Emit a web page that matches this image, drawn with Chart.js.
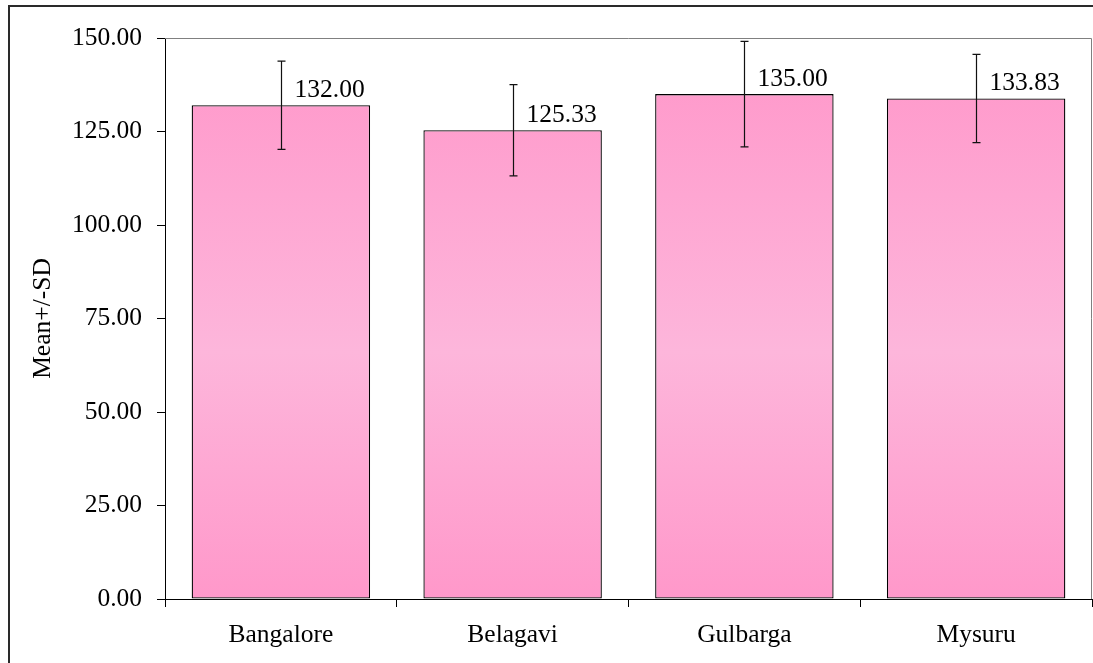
<!DOCTYPE html>
<html>
<head>
<meta charset="utf-8">
<script src="https://cdn.jsdelivr.net/npm/chart.js@4.4.1/dist/chart.umd.min.js"></script>
<style>
  html, body { margin: 0; padding: 0; background: #fff; overflow: hidden; }
  #wrap { position: relative; width: 1093px; height: 663px; }
  #c { position: absolute; left: 0; top: 0; }
  #frame { position: absolute; left: 8px; top: 5px; width: 1200px; height: 800px;
           border: 2px solid #2a2a2a; pointer-events: none; box-sizing: border-box; }
</style>
</head>
<body>
<div id="wrap">
  <canvas id="c" width="1093" height="663"></canvas>
  <div id="frame"></div>
</div>
<script>
const categories = ["Bangalore", "Belagavi", "Gulbarga", "Mysuru"];
const means = [132.00, 125.33, 135.00, 133.83];
const sds = [11.8, 12.2, 14.1, 11.8];
const yTicks = [0, 25, 50, 75, 100, 125, 150];

const FONT = "'Liberation Serif', 'Times New Roman', serif";
const FS = 25.5;

const errorBarPlugin = {
  id: 'errorBars',
  beforeDatasetsDraw(chart) {
    const {ctx, chartArea: a} = chart;
    ctx.save();
    ctx.strokeStyle = '#808080';
    ctx.lineWidth = 1;
    ctx.beginPath();
    ctx.moveTo(a.left, a.top + 0.5);
    ctx.lineTo(a.right - 0.5, a.top + 0.5);
    ctx.lineTo(a.right - 0.5, a.bottom);
    ctx.stroke();
    ctx.restore();
  },
  afterDatasetsDraw(chart) {
    const {ctx} = chart;
    const meta = chart.getDatasetMeta(0);
    const y = chart.scales.y;
    ctx.save();
    meta.data.forEach((bar, i) => {
      const x = Math.round(bar.x) + 0.5;
      const yt = y.getPixelForValue(means[i] + sds[i]);
      const yb = y.getPixelForValue(means[i] - sds[i]);
      ctx.strokeStyle = '#111';
      ctx.lineWidth = 1.2;
      ctx.beginPath();
      ctx.moveTo(x, yt); ctx.lineTo(x, yb);
      ctx.moveTo(x - 4, yt); ctx.lineTo(x + 4, yt);
      ctx.moveTo(x - 4, yb); ctx.lineTo(x + 4, yb);
      ctx.stroke();
      ctx.fillStyle = '#000';
      ctx.font = FS + 'px ' + FONT;
      ctx.textAlign = 'left';
      ctx.textBaseline = 'alphabetic';
      ctx.fillText(means[i].toFixed(2), x + 13, bar.y - 8);
    });
    ctx.restore();
  }
};

const ctx = document.getElementById('c').getContext('2d');
new Chart(ctx, {
  type: 'bar',
  data: {
    labels: categories,
    datasets: [{
      data: means,
      backgroundColor: (c) => {
        const a = c.chart.chartArea;
        if (!a) return '#FF99CC';
        const g = c.chart.ctx.createLinearGradient(0, a.top, 0, a.bottom);
        g.addColorStop(0, '#FF96C9');
        g.addColorStop(0.56, '#FDB6DB');
        g.addColorStop(1, '#FF98CA');
        return g;
      },
      borderColor: '#000',
      borderWidth: 1.3,
      borderSkipped: false,
      barPercentage: 0.77,
      categoryPercentage: 1.0
    }]
  },
  options: {
    responsive: false,
    devicePixelRatio: 1,
    animation: false,
    layout: { padding: { left: 25, top: 38, right: 1, bottom: 0 } },
    plugins: { legend: { display: false }, tooltip: { enabled: false } },
    scales: {
      x: {
        grid: { offset: true, drawOnChartArea: false, tickLength: 8, color: '#000' },
        border: { color: '#000', width: 1 },
        ticks: { color: '#000', font: { family: FONT, size: FS }, padding: 13, maxRotation: 0 },
        afterFit: (s) => { s.height = 64; }
      },
      y: {
        min: 0, max: 150,
        afterBuildTicks: (s) => { s.ticks = yTicks.map(v => ({ value: v })); },
        grid: { drawOnChartArea: false, tickLength: 8, color: '#000' },
        border: { color: '#000', width: 1 },
        ticks: { color: '#000', font: { family: FONT, size: FS }, padding: 15,
                 callback: (v) => Number(v).toFixed(2) },
        title: { display: true, text: 'Mean+/-SD', color: '#000',
                 font: { family: FONT, size: FS }, padding: { top: 3, bottom: 0 } },
        afterFit: (s) => { s.width = 140; }
      }
    }
  },
  plugins: [errorBarPlugin]
});
</script>
</body>
</html>
